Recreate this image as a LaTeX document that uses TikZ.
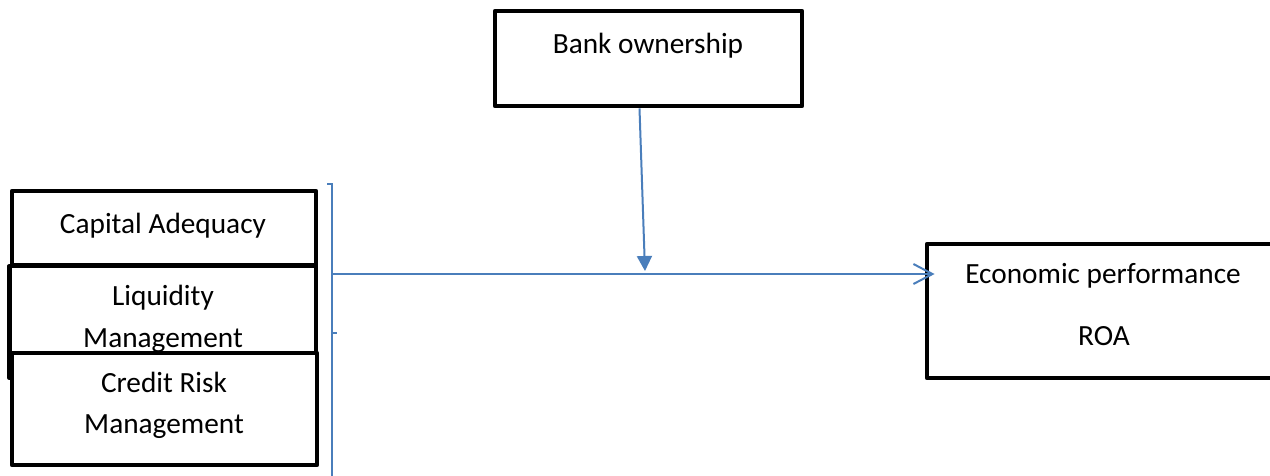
\documentclass[tikz,border=0pt]{standalone}
\usepackage{fontspec}
\setmainfont{Carlito}
\usetikzlibrary{arrows.meta}
\definecolor{wordblue}{RGB}{74,126,187}
\begin{document}
\begin{tikzpicture}[x=1pt,y=-1pt,
  box/.style={draw=black,line width=4.8pt,line join=round,fill=white,rectangle,inner sep=0pt},
  lbl/.style={anchor=base,inner sep=0pt,font=\fontsize{29.3}{35}\selectfont},
  conn/.style={draw=wordblue,line width=2pt}]
\useasboundingbox (0,0) rectangle (1270,475);
\clip (0,0) rectangle (1270,475);
% Bank ownership
\node[box,minimum width=307pt,minimum height=95pt] (bank) at (648.5,58.5) {};
\node[lbl] (bankt) at (648,53) {Bank ownership};
% Capital adequacy
\node[box,minimum width=304pt,minimum height=74pt] (cap) at (164,228) {};
\node[lbl] (capt) at (163,233) {Capital Adequacy};
% Liquidity
\node[box,minimum width=306.5pt,minimum height=112pt] (liq) at (162.75,322) {};
\node[lbl] (liqt1) at (163,305) {Liquidity};
\node[lbl] (liqt2) at (163,347) {Management};
% Credit risk
\node[box,minimum width=305pt,minimum height=112pt] (cred) at (164.5,409) {};
\node[lbl] (credt1) at (164,392) {Credit Risk};
\node[lbl] (credt2) at (164,433) {Management};
% Economic performance
\node[box,minimum width=363pt,minimum height=134pt] (econ) at (1108.5,311) {};
\node[lbl] (econt1) at (1103,283) {Economic performance};
\node[lbl] (econt2) at (1104,345) {ROA};
% bracket
\coordinate (btop) at (332,184);
\coordinate (bbot) at (332,476);
\coordinate (bmid) at (332,274);
\coordinate (btick) at (332,333);
\coordinate (meet) at (645,271);
\draw[conn] ([xshift=-5pt]btop) -- (btop) -- (bbot);
\draw[conn] (btick) -- ++(5,0);
\draw[conn,-{Straight Barb[length=19pt,width=20pt,line width=2pt]}] (bmid) -- (econ.west |- bmid) -- ++(10,0);
\draw[conn,-{Triangle[length=15pt,width=15pt]}] ([xshift=-9pt]bank.south) -- (meet);
\end{tikzpicture}
\end{document}
